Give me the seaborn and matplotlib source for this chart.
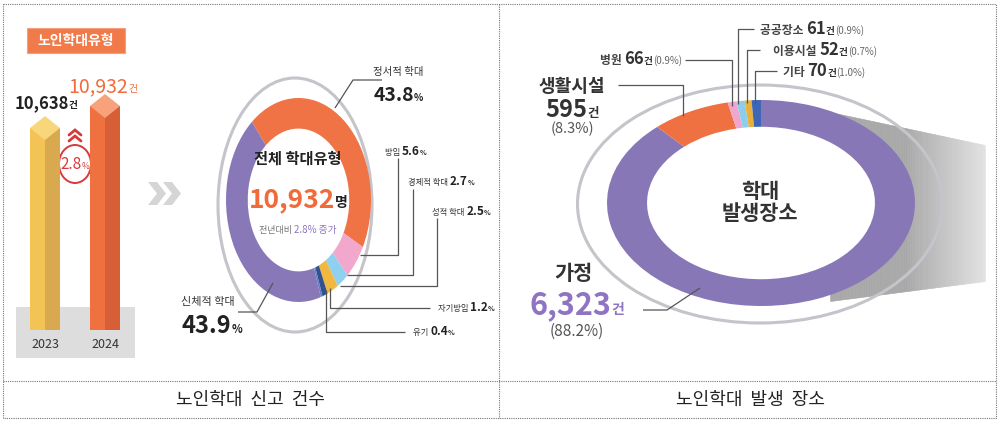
import numpy as np
import matplotlib
matplotlib.use("Agg")
import matplotlib.pyplot as plt
import seaborn as sns
from matplotlib.patches import Rectangle, Ellipse, Polygon, Circle
from matplotlib.colors import LinearSegmentedColormap

years = ["2023", "2024"]
reports = [10638, 10932]
growth = 2.8

type_labels = ["정서적 학대", "방임", "경제적 학대", "성적 학대", "자기방임", "유기", "신체적 학대"]
type_pct = [43.8, 5.6, 2.7, 2.5, 1.2, 0.4, 43.9]
type_colors = ["#ef7345", "#f2a8cc", "#8fd0ee", "#f0b83e", "#34508f", "#5a7fc4", "#8878b8"]

place_labels = ["가정", "생활시설", "병원", "공공장소", "이용시설", "기타"]
place_counts = [6323, 595, 66, 61, 52, 70]
place_pct = [88.2, 8.3, 0.9, 0.9, 0.7, 1.0]
place_colors = ["#8877b7", "#ef7142", "#f0a6cc", "#8ccdec", "#e9b13c", "#3f66b5"]

ORANGE = "#ef6c3a"
PURPLE = "#8e74c2"
W, H = 1001, 422

sns.set_theme(style="white")
KR = ["Noto Sans CJK KR", "DejaVu Sans"]
NARROW = ["Liberation Sans Narrow", "Noto Sans CJK KR", "DejaVu Sans"]
plt.rcParams["font.family"] = KR

fig = plt.figure(figsize=(W / 100, H / 100), dpi=100)
fig.patch.set_facecolor("white")


def px_rect(x0, y0, x1, y1):
    return [x0 / W, 1 - y1 / H, (x1 - x0) / W, (y1 - y0) / H]


bg = fig.add_axes([0, 0, 1, 1], zorder=0)
ov = fig.add_axes([0, 0, 1, 1], zorder=5)
for a in (bg, ov):
    a.set_xlim(0, W)
    a.set_ylim(H, 0)


def rich(x, y, parts, ha="center", fam=KR):
    """Draw pieces of text of mixed size side by side on one baseline."""
    r = fig.canvas.get_renderer()
    items = []
    for s, size, color, weight in parts:
        t = ov.text(x, y, s, fontsize=size, color=color, fontweight=weight,
                    family=fam, ha="left", va="baseline")
        items.append((t, t.get_window_extent(renderer=r).width))
    total = sum(w for _, w in items)
    start = {"center": x - total / 2, "left": x, "right": x - total}[ha]
    for t, w in items:
        t.set_x(start)
        start += w


def leader(xs, ys):
    ov.plot(xs, ys, color="#555555", lw=0.9, solid_capstyle="butt")


# frame and captions
frame = dict(color="#777777", lw=0.8, ls=(0, (1, 1)))
bg.plot([3, 996, 996, 3, 3], [4, 4, 418, 418, 4], **frame)
bg.plot([499, 499], [4, 418], **frame)
bg.plot([3, 996], [381, 381], **frame)
ov.text(250, 400, "노인학대  신고  건수", fontsize=13, ha="center", va="center", color="#222222")
ov.text(750, 400, "노인학대  발생  장소", fontsize=13, ha="center", va="center", color="#222222")

# ---------------- left panel: reports per year ----------------
bg.add_patch(Rectangle((27, 28), 98, 25, fc="#f07a4a", ec="#f5a080", lw=0.8))
ov.text(76, 41, "노인학대유형", fontsize=10, color="white", fontweight="bold",
        ha="center", va="center", family=NARROW)
bg.add_patch(Rectangle((16, 307), 119, 51, fc="#dddddd", ec="none"))

axb = fig.add_axes(px_rect(15, 80, 135, 330), zorder=2)
sns.barplot(x=years, y=reports, hue=years, palette=["#f3c455", "#f07140"],
            legend=False, width=0.5, saturation=1, ax=axb)
y_lo = 7938
axb.set_ylim(y_lo, 11280)
axb.set_xlim(-0.5, 1.5)
axb.axis("off")
dh = 160
for p, dark, light in zip(axb.patches, ["#d9a94f", "#d65f37"], ["#f8d77c", "#f7a27a"]):
    p.set_edgecolor("none")
    x0, w, top = p.get_x(), p.get_width(), p.get_height()
    axb.add_patch(Rectangle((x0 + w / 2, y_lo), w / 2, top - y_lo, fc=dark, ec="none", zorder=3))
    axb.add_patch(Polygon([(x0, top), (x0 + w / 2, top + dh), (x0 + w, top), (x0 + w / 2, top - dh)],
                          fc=light, ec="none", zorder=4))

rich(46, 108, [(f"{reports[0]:,}", 12, "#222222", "bold"), ("건", 7, "#222222", "bold")], fam=NARROW)
rich(103, 92, [(f"{reports[1]:,}", 14, ORANGE, "normal"), ("건", 7, ORANGE, "normal")], fam=NARROW)
ov.text(45, 345, years[0], fontsize=9, color="#333333", ha="center", va="center", family=NARROW)
ov.text(105, 345, years[1], fontsize=9, color="#333333", ha="center", va="center", family=NARROW)

# growth badge
bg.add_patch(Ellipse((75, 164), 32, 38, fc="white", ec="#d83a3a", lw=1.4, zorder=3))
rich(75, 169, [(f"{growth}", 11, "#d83a3a", "normal"), ("%", 6, "#d83a3a", "normal")], fam=NARROW)
for yy in (135, 141):
    ov.plot([69, 75, 81], [yy, yy - 5, yy], color="#d83a3a", lw=2.0, solid_joinstyle="miter")

# grey arrows
for x in (148, 163):
    bg.add_patch(Polygon([(x, 182), (x + 9, 182), (x + 18, 193.5), (x + 9, 205), (x, 205), (x + 9, 193.5)],
                         fc="#d5d5d5", ec="none"))


# ---------------- donuts ----------------
def donut(box, values, colors, start, width):
    ax = fig.add_axes(px_rect(*box), zorder=2)
    ax.add_patch(Circle((0, 0), 1 - width, color="white", zorder=0))
    ax.pie(values, colors=colors, startangle=start, counterclock=False, radius=1,
           wedgeprops=dict(width=width, edgecolor="none", linewidth=0))
    ax.set_xlim(-1, 1)
    ax.set_ylim(-1, 1)
    ax.set_aspect("auto")
    ax.axis("off")
    return ax


bg.add_patch(Ellipse((295, 205), 154, 254, fill=False, ec="#c4c4ca", lw=2.2, zorder=2))
donut((226, 98, 371, 302), type_pct, type_colors, 130, 0.3)

ov.text(298, 159, "전체 학대유형", fontsize=11, fontweight="bold", color="#222222",
        ha="center", va="center", family=NARROW)
rich(298, 207, [(f"{reports[1]:,}", 19, ORANGE, "bold"), ("명", 10, "#222222", "bold")], fam=NARROW)
rich(298, 233, [("전년대비 ", 6.5, "#777777", "normal"), (f"{growth}% 증가", 7, PURPLE, "normal")], fam=NARROW)

# labels of the type donut
ov.text(398, 72, type_labels[0], fontsize=7.5, color="#333333", ha="center", va="center", family=NARROW)
rich(398, 101, [(f"{type_pct[0]}", 14, "#222222", "bold"), ("%", 7, "#222222", "bold")], fam=NARROW)
leader([335, 353, 382], [108, 80, 80])

small = [(1, 385, 155), (2, 408, 185), (3, 432, 215), (4, 438, 311), (5, 413, 335)]
for i, x, y in small:
    rich(x, y, [(type_labels[i] + " ", 6, "#333333", "normal"), (f"{type_pct[i]}", 8.5, "#222222", "bold"),
                ("%", 5, "#222222", "bold")], ha="left", fam=NARROW)
leader([360, 398, 398], [255, 255, 158])
leader([347, 413, 413], [275, 275, 189])
leader([340, 437, 437], [286, 286, 218])
leader([330, 330, 430], [288, 308, 308])
leader([326, 326, 405], [290, 332, 332])

ov.text(208, 302, type_labels[6], fontsize=8, color="#333333", ha="center", va="center", family=NARROW)
rich(212, 333, [(f"{type_pct[6]}", 17, "#222222", "bold"), ("%", 8, "#222222", "bold")], fam=NARROW)
leader([273, 257, 238], [283, 312, 312])

# ---------------- right panel: place donut ----------------
# grey shade behind the donut, drawn as thin strips, darker next to the ring
cmap = LinearSegmentedColormap.from_list("shade", ["#a8a8a8", "#e3e3e3"])
sx = np.linspace(830, 985, 90)
s_top = 112 + (sx - 830) * (145 - 112) / 155
s_bot = 301 + (sx - 830) * (281 - 301) / 155
for k in range(len(sx) - 1):
    c = cmap(float(np.clip((sx[k] - 905) / 80, 0, 1)))
    bg.fill_between(sx[k:k + 2], s_top[k:k + 2], s_bot[k:k + 2], color=c, lw=0.4, ec=c, zorder=1)
bg.add_patch(Ellipse((760, 204), 365, 238, fill=False, ec="#c4c4ca", lw=2.2, zorder=2))
donut((607, 100, 915, 306), place_counts, place_colors, 90, 0.26)

ov.text(760, 192, "학대", fontsize=15, fontweight="bold", color="#333333", ha="center", va="center")
ov.text(760, 213, "발생장소", fontsize=15, fontweight="bold", color="#333333", ha="center", va="center")

ov.text(572, 86, place_labels[1], fontsize=13, fontweight="bold", color="#333333", ha="center", va="center")
rich(572, 117, [(f"{place_counts[1]}", 17, "#333333", "bold"), ("건", 9, "#333333", "bold")])
ov.text(572, 129, f"({place_pct[1]}%)", fontsize=10.5, color="#555555", ha="center", va="center")
leader([683, 683, 618], [116, 85, 85])

ov.text(573, 274, place_labels[0], fontsize=15, fontweight="bold", color="#333333", ha="center", va="center")
rich(577, 314, [(f"{place_counts[0]:,}", 22, PURPLE, "bold"), ("건", 10, PURPLE, "bold")])
ov.text(577, 331, f"({place_pct[0]}%)", fontsize=11, color="#555555", ha="center", va="center")
leader([700, 667, 643], [288, 310, 310])


def place_label(i, x, y, ha):
    rich(x, y, [(place_labels[i] + " ", 8.5, "#444444", "bold"), (f"{place_counts[i]}", 12, "#333333", "bold"),
                ("건", 7, "#333333", "bold"), (f"({place_pct[i]}%)", 7, "#666666", "normal")], ha=ha)


place_label(2, 682, 64, "right")
leader([732, 732, 685], [106, 60, 60])
place_label(3, 760, 34, "left")
leader([738, 738, 754], [104, 29, 29])
place_label(4, 773, 55, "left")
leader([747, 747, 760], [103, 50, 50])
place_label(5, 783, 76, "left")
leader([755, 755, 777], [103, 71, 71])

for a in (bg, ov):
    a.set_xlim(0, W)
    a.set_ylim(H, 0)
    a.set_aspect("auto")
    a.axis("off")

fig.savefig("out.png", dpi=100)
